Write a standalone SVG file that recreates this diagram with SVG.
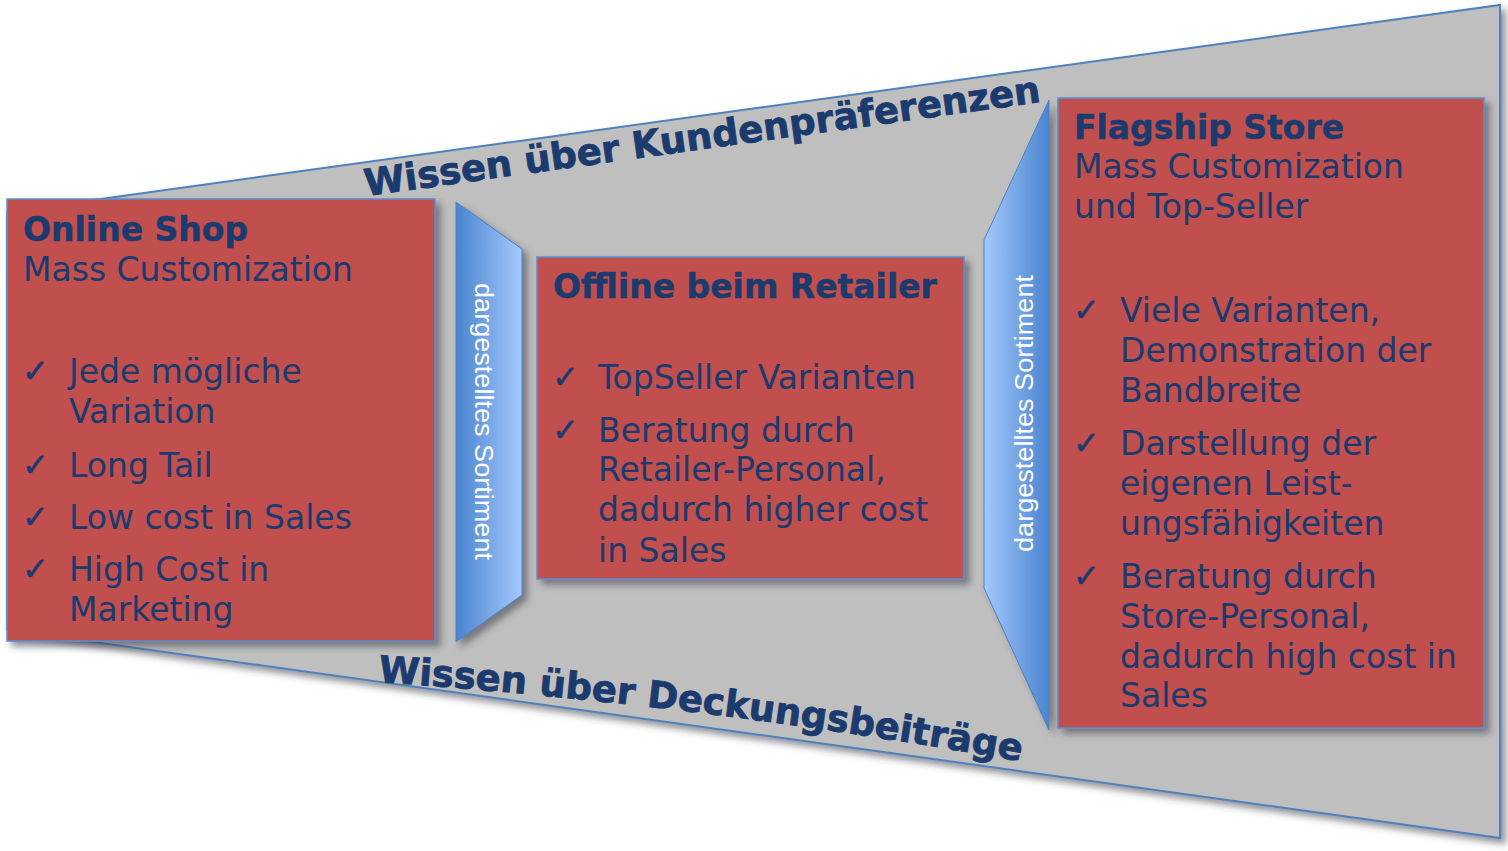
<svg xmlns="http://www.w3.org/2000/svg" width="1508" height="851" viewBox="0 0 1508 851">
<defs>
<filter id="sh" x="-10%" y="-10%" width="130%" height="130%">
<feDropShadow dx="5" dy="5" stdDeviation="3.5" flood-color="#3a3a4a" flood-opacity="0.55"/>
</filter>
<linearGradient id="g1" x1="0" y1="0" x2="1" y2="0">
<stop offset="0" stop-color="#4a84d0"/>
<stop offset="1" stop-color="#a4c9fc"/>
</linearGradient>
<linearGradient id="g2" x1="0" y1="0" x2="1" y2="0">
<stop offset="0" stop-color="#a4c9fc"/>
<stop offset="1" stop-color="#4a84d0"/>
</linearGradient>
<path id="topPath" d="M 366 196 L 1048 101"/>
<path id="botPath" d="M 378 682 Q 700 704 1024 762"/>
<style>
.box{fill:#c0504d;stroke:#5a8ed0;stroke-width:1.5;filter:url(#sh)}
.arr{stroke:#4f81bd;stroke-width:1;filter:url(#sh)}
.t{font-family:"DejaVu Sans",Verdana,sans-serif;font-size:33px;fill:#1b3a6e}
.b{font-weight:bold;stroke:#1b3a6e;stroke-width:0.5}
.ck{font-family:"DejaVu Sans",sans-serif;font-size:32px;fill:#1b3a6e;stroke:#1b3a6e;stroke-width:0.6}
.v{font-family:"Liberation Sans",Arial,sans-serif;font-size:25px;fill:#ffffff}
.w{font-family:"DejaVu Sans",Verdana,sans-serif;font-size:37px;font-weight:bold;fill:#1b3a6e;stroke:#1b3a6e;stroke-width:0.8}
</style>
</defs>
<g id="background">
<polygon points="7,212 1500,5 1500,838 7,630" fill="#bfbfbf" stroke="#4f81bd" stroke-width="2" filter="url(#sh)"/>
</g>
<g id="labels">
<text class="w"><textPath href="#topPath" textLength="682" lengthAdjust="spacing">Wissen über Kundenpräferenzen</textPath></text>
<text class="w"><textPath href="#botPath" textLength="648" lengthAdjust="spacing">Wissen über Deckungsbeiträge</textPath></text>
</g>
<g id="connectors">
<g id="arrow1">
<polygon class="arr" points="456,202 522,249 522,595 456,642" fill="url(#g1)"/>
<text class="v" transform="translate(475,283) rotate(90)" textLength="277" lengthAdjust="spacingAndGlyphs">dargestelltes Sortiment</text>
</g>
<g id="arrow2">
<polygon class="arr" points="1049,100 1049,730 984,588 984,240" fill="url(#g2)"/>
<text class="v" transform="translate(1033,552) rotate(-90)" textLength="277" lengthAdjust="spacingAndGlyphs">dargestelltes Sortiment</text>
</g>
</g>
<g id="online-shop">
<rect class="box" x="7" y="199" width="428" height="442"/>
<text class="t b" x="23" y="241">Online Shop</text>
<text class="t" x="23" y="281">Mass Customization</text>
<text class="ck" x="22" y="382">✓</text>
<text class="t" x="69" y="383">Jede mögliche</text>
<text class="t" x="69" y="423">Variation</text>
<text class="ck" x="22" y="476">✓</text>
<text class="t" x="69" y="477">Long Tail</text>
<text class="ck" x="22" y="528">✓</text>
<text class="t" x="69" y="529">Low cost in Sales</text>
<text class="ck" x="22" y="580">✓</text>
<text class="t" x="69" y="581">High Cost in</text>
<text class="t" x="69" y="621">Marketing</text>
</g>
<g id="offline-retailer">
<rect class="box" x="537" y="257" width="427" height="322"/>
<text class="t b" x="553" y="298">Offline beim Retailer</text>
<text class="ck" x="552" y="388">✓</text>
<text class="t" x="598" y="389">TopSeller Varianten</text>
<text class="ck" x="552" y="441">✓</text>
<text class="t" x="598" y="442">Beratung durch</text>
<text class="t" x="598" y="481">Retailer-Personal,</text>
<text class="t" x="598" y="521">dadurch higher cost</text>
<text class="t" x="598" y="562">in Sales</text>
</g>
<g id="flagship-store">
<rect class="box" x="1058" y="98" width="426" height="630"/>
<text class="t b" x="1074" y="139">Flagship Store</text>
<text class="t" x="1074" y="178">Mass Customization</text>
<text class="t" x="1074" y="218">und Top-Seller</text>
<text class="ck" x="1073" y="321">✓</text>
<text class="t" x="1120" y="322">Viele Varianten,</text>
<text class="t" x="1120" y="362">Demonstration der</text>
<text class="t" x="1120" y="402">Bandbreite</text>
<text class="ck" x="1073" y="454">✓</text>
<text class="t" x="1120" y="455">Darstellung der</text>
<text class="t" x="1120" y="495">eigenen Leist-</text>
<text class="t" x="1120" y="535">ungsfähigkeiten</text>
<text class="ck" x="1073" y="587">✓</text>
<text class="t" x="1120" y="588">Beratung durch</text>
<text class="t" x="1120" y="628">Store-Personal,</text>
<text class="t" x="1120" y="668">dadurch high cost in</text>
<text class="t" x="1120" y="707">Sales</text>
</g>
</svg>
